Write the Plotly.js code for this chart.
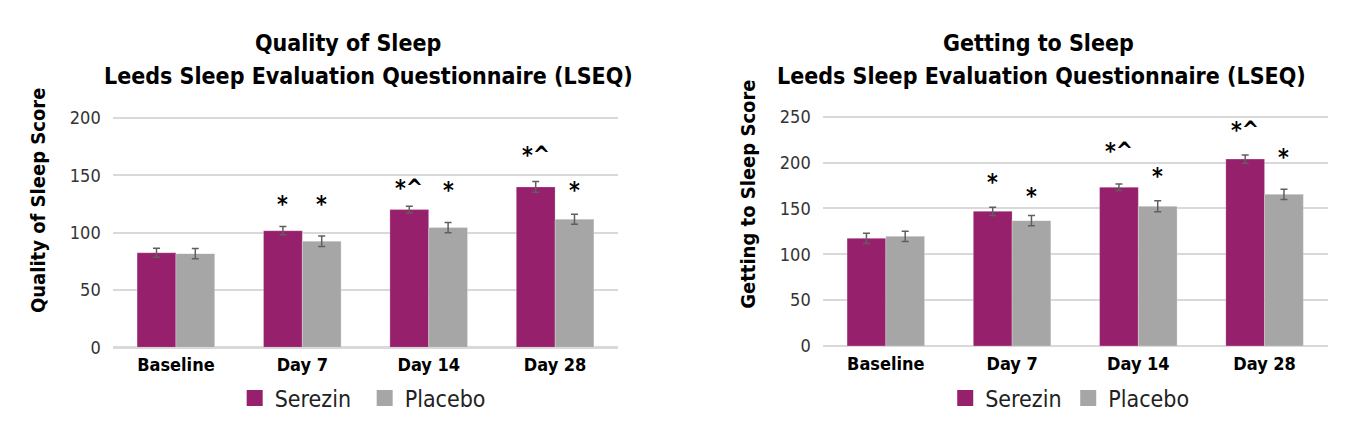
<!DOCTYPE html>
<html>
<head>
<meta charset="utf-8">
<script src="https://cdn.plot.ly/plotly-3.0.1.min.js"></script>
<style>html,body{margin:0;padding:0;background:#fff;}#chart{width:1362px;height:435px;}</style>
</head>
<body>
<div id="chart"></div>
<script>
// ---- data ----
const categories = ['Baseline', 'Day 7', 'Day 14', 'Day 28'];
const seriesNames = ['Serezin', 'Placebo'];

const qualitySerezin = [82.5, 101.7, 120.1, 139.9];
const qualitySerezinErr = [3.9, 3.6, 3.0, 4.7];
const qualityPlacebo = [81.7, 92.5, 104.4, 111.7];
const qualityPlaceboErr = [4.5, 4.5, 4.4, 4.4];

const gettingSerezin = [117.4, 146.9, 173.1, 203.9];
const gettingSerezinErr = [5.5, 4.5, 3.5, 4.5];
const gettingPlacebo = [119.6, 136.7, 152.3, 165.4];
const gettingPlaceboErr = [5.6, 5.6, 6.0, 5.5];

// significance marks and the score level at which each is written
const qualitySerezinMarks = ['', '*', '*^', '*^'];
const qualitySerezinMarkY = [null, 128, 141.6, 170.7];
const qualityPlaceboMarks = ['', '*', '*', '*'];
const qualityPlaceboMarkY = [null, 128, 140.2, 139.6];
const gettingSerezinMarks = ['', '*', '*^', '*^'];
const gettingSerezinMarkY = [null, 181.8, 215.6, 238.5];
const gettingPlaceboMarks = ['', '*', '*', '*'];
const gettingPlaceboMarkY = [null, 166.5, 188.3, 209];

const titles = {
  left1: 'Quality of Sleep', right1: 'Getting to Sleep',
  line2: 'Leeds Sleep Evaluation Questionnaire (LSEQ)',
  leftY: 'Quality of Sleep Score', rightY: 'Getting to Sleep Score'
};

// ---- styles ----
const FONT = '"Liberation Sans Narrow", "DejaVu Sans Condensed", "Roboto Condensed", sans-serif';
const PURPLE = '#96206b';
const GREY = '#a6a6a6';
const ERRC = '#5f5f5f';
const BARGAP = 0.386;

function barTrace(x, y, err, color, name, xa, ya) {
  return {
    type: 'bar', x: x, y: y, name: name, xaxis: xa, yaxis: ya,
    marker: {color: color, line: {color: 'rgba(255,255,255,0.5)', width: 0.5}},
    error_y: {type: 'data', array: err, visible: true, color: ERRC, thickness: 1.5, width: 3.5},
    showlegend: false, hoverinfo: 'skip'
  };
}
function legendTrace(color, name, legend) {
  return {
    type: 'scatter', mode: 'markers', x: [null], y: [null], name: name,
    marker: {symbol: 'square', size: 16, color: color},
    legend: legend, showlegend: true, xaxis: 'x', yaxis: 'y', hoverinfo: 'skip'
  };
}

const data = [
  barTrace(categories, qualitySerezin, qualitySerezinErr, PURPLE, seriesNames[0], 'x', 'y'),
  barTrace(categories, qualityPlacebo, qualityPlaceboErr, GREY, seriesNames[1], 'x', 'y'),
  barTrace(categories, gettingSerezin, gettingSerezinErr, PURPLE, seriesNames[0], 'x2', 'y2'),
  barTrace(categories, gettingPlacebo, gettingPlaceboErr, GREY, seriesNames[1], 'x2', 'y2'),
  legendTrace(PURPLE, seriesNames[0], 'legend'),
  legendTrace(GREY, seriesNames[1], 'legend'),
  legendTrace(PURPLE, seriesNames[0], 'legend2'),
  legendTrace(GREY, seriesNames[1], 'legend2')
];

const barOffset = (1 - BARGAP) / 4; // centre of each bar relative to its category, in category units
const annotations = [];
function addMarks(marks, ys, side, xref, yref) {
  marks.forEach(function (m, i) {
    if (!m) return;
    annotations.push({
      xref: xref, yref: yref, x: i + side * barOffset, y: ys[i], text: m,
      showarrow: false, xanchor: 'center', yanchor: 'middle', yshift: -3,
      font: {family: FONT, size: 23, color: '#000', weight: 700}
    });
  });
}
addMarks(qualitySerezinMarks, qualitySerezinMarkY, -1, 'x', 'y');
addMarks(qualityPlaceboMarks, qualityPlaceboMarkY, 1, 'x', 'y');
addMarks(gettingSerezinMarks, gettingSerezinMarkY, -1, 'x2', 'y2');
addMarks(gettingPlaceboMarks, gettingPlaceboMarkY, 1, 'x2', 'y2');

function textAnn(text, x, y, size, angle) {
  return {xref: 'paper', yref: 'paper', x: x, y: y, text: text, showarrow: false,
    xanchor: 'center', yanchor: 'middle', textangle: angle || 0,
    font: {family: FONT, size: size, color: '#000', weight: 700}};
}
annotations.push(textAnn(titles.left1, 0.2555, 0.9005, 23));
annotations.push(textAnn(titles.line2, 0.2702, 0.8253, 23));
annotations.push(textAnn(titles.right1, 0.7628, 0.9005, 23));
annotations.push(textAnn(titles.line2, 0.7648, 0.8253, 23));
annotations.push(textAnn(titles.leftY, 0.0279, 0.5402, 20, -90));
annotations.push(textAnn(titles.rightY, 0.5490, 0.5540, 20, -90));

function xAxis(domain, anchor) {
  return {domain: domain, anchor: anchor, type: 'category', showgrid: false, zeroline: false,
    showline: false, ticks: '', ticklabelstandoff: 5,
    tickfont: {family: FONT, size: 18, color: '#000', weight: 700}};
}
function yAxis(domain, anchor, range) {
  return {domain: domain, anchor: anchor, range: range, dtick: 50, tick0: 0,
    showgrid: true, gridcolor: '#d9d9d9', gridwidth: 2,
    zeroline: true, zerolinecolor: '#d9d9d9', zerolinewidth: 2.5,
    showline: false, ticks: '', ticklabelstandoff: 11,
    tickfont: {family: FONT, size: 18, color: '#333'}};
}

const legendBase = {orientation: 'h', xanchor: 'left', yanchor: 'middle', y: 0.085,
  bgcolor: 'rgba(0,0,0,0)', font: {family: FONT, size: 23, color: '#222'},
  entrywidthmode: 'pixels', itemclick: false, itemdoubleclick: false};

const layout = {
  width: 1362, height: 435,
  margin: {l: 0, r: 0, t: 0, b: 0, pad: 0},
  paper_bgcolor: '#fff', plot_bgcolor: '#fff',
  font: {family: FONT},
  barmode: 'group', bargap: BARGAP, bargroupgap: 0,
  xaxis: xAxis([0.08275, 0.45396], 'y'),
  yaxis: yAxis([0.20161, 0.74184], 'x', [0, 205]),
  xaxis2: xAxis([0.60404, 0.97482], 'y2'),
  yaxis2: yAxis([0.20460, 0.74207], 'x2', [0, 255]),
  legend: Object.assign({}, legendBase, {x: 0.1723, entrywidth: 85}),
  legend2: Object.assign({}, legendBase, {x: 0.694, entrywidth: 78}),
  annotations: annotations,
  showlegend: true
};

Plotly.newPlot('chart', data, layout, {staticPlot: true, displayModeBar: false});
</script>
</body>
</html>
